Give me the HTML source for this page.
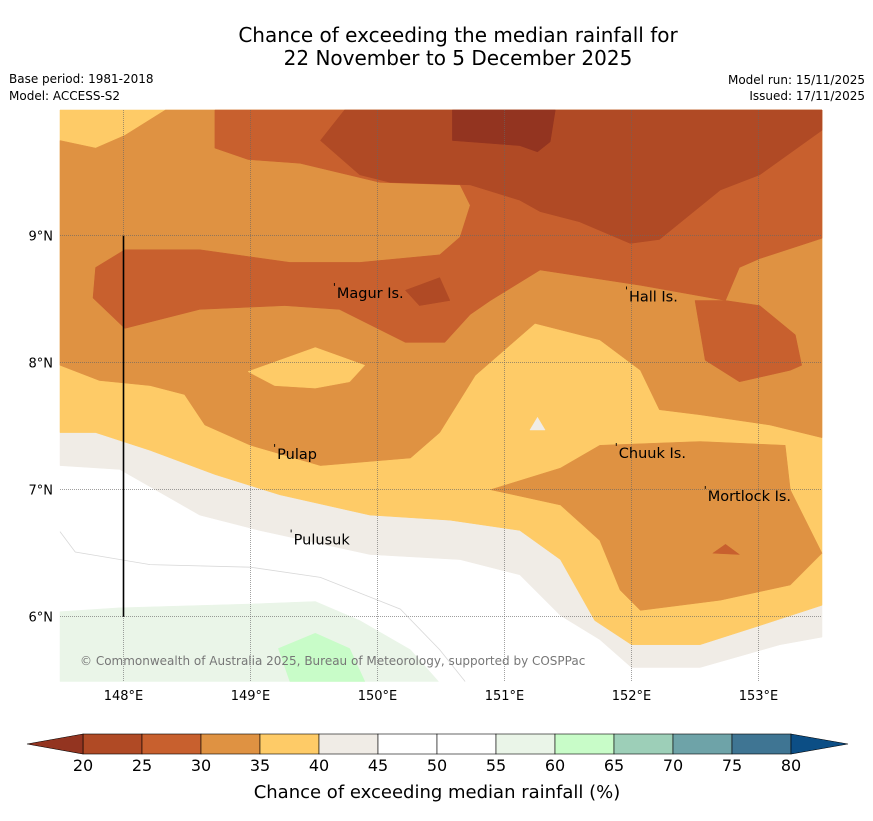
<!DOCTYPE html>
<html><head><meta charset="utf-8"><style>
body{margin:0;background:#fff;font-family:"Liberation Sans","DejaVu Sans",sans-serif;}
svg text{font-family:"DejaVu Sans","Liberation Sans",sans-serif;}
</style></head><body>
<svg id="c" width="873" height="816" xmlns="http://www.w3.org/2000/svg">
<text x="458" y="42" text-anchor="middle" font-size="20">Chance of exceeding the median rainfall for</text>
<text x="458" y="65" text-anchor="middle" font-size="20">22 November to 5 December 2025</text>
<text x="9" y="83" font-size="12">Base period: 1981-2018</text>
<text x="9" y="100" font-size="12">Model: ACCESS-S2</text>
<text x="865" y="84" font-size="12" text-anchor="end">Model run: 15/11/2025</text>
<text x="865" y="100" font-size="12" text-anchor="end">Issued: 17/11/2025</text>
<g id="map"></g>
<g id="cb"></g>
<text x="437" y="798" text-anchor="middle" font-size="18">Chance of exceeding median rainfall (%)</text>
</svg>
<script>
const NS="http://www.w3.org/2000/svg";
const lonTicks=[148,149,150,151,152,153];
const latTicks=[6,7,8,9];
const levels=[20,25,30,35,40,45,50,55,60,65,70,75,80];
const levelColors=["#b04a25","#c8602e","#df9242","#fecb67","#f0ece6","#ffffff","#ffffff","#eaf5e8","#c8fcc8","#9dcfb8","#6ea3a8","#3f7593"];
const grayBand=[[147.5,9.99],[153.5,9.99],[153.5,5.84],[153.17,5.78],[152.54,5.6],[152.0,5.6],[151.75,5.82],[151.44,6.01],[151.12,6.33],[150.65,6.45],[149.94,6.49],[149.07,6.68],[148.6,6.8],[148.25,7.0],[147.97,7.16],[147.5,7.19]];
const yellowBand=[[147.5,9.99],[153.5,9.99],[153.5,6.09],[153.01,5.93],[152.54,5.78],[152.0,5.78],[151.71,5.97],[151.44,6.45],[151.12,6.68],[150.57,6.76],[149.94,6.8],[149.23,6.96],[148.72,7.12],[148.21,7.31],[147.78,7.45],[147.5,7.45]];
const orangeBand=[[147.5,9.75],[147.78,9.69],[148.01,9.79],[148.33,9.99],[153.5,9.99],[153.5,7.41],[153.09,7.51],[152.54,7.59],[152.22,7.63],[152.07,7.94],[151.75,8.18],[151.24,8.31],[150.77,7.9],[150.49,7.45],[150.26,7.25],[149.55,7.19],[149.0,7.35],[148.64,7.51],[148.48,7.75],[148.21,7.82],[147.81,7.86],[147.5,7.98]];
const yellowPatch=[[148.98,7.93],[149.51,8.12],[149.9,7.98],[149.78,7.85],[149.51,7.8],[149.19,7.82]];
const mortlockOrange=[[150.89,7.0],[151.44,7.17],[151.75,7.35],[152.54,7.38],[153.21,7.35],[153.25,7.0],[153.5,6.5],[153.25,6.25],[152.7,6.13],[152.07,6.05],[151.91,6.21],[151.75,6.6],[151.44,6.88]];
const mortlockRed=[[152.64,6.5],[152.74,6.57],[152.85,6.49]];
const chuukGray=[[151.2,7.47],[151.26,7.57],[151.32,7.47]];
const redBand=[[148.72,9.99],[153.5,9.99],[153.5,8.98],[153.01,8.82],[152.85,8.75],[152.74,8.49],[152.07,8.61],[151.28,8.73],[150.89,8.49],[150.73,8.38],[150.53,8.16],[150.22,8.16],[149.7,8.42],[149.27,8.45],[148.6,8.42],[148.01,8.27],[147.76,8.51],[147.78,8.75],[148.01,8.89],[148.6,8.89],[149.31,8.79],[149.86,8.79],[150.49,8.85],[150.65,8.99],[150.73,9.24],[150.65,9.4],[150.02,9.42],[149.39,9.57],[148.98,9.6],[148.72,9.69]];
const hallRed=[[152.5,8.49],[152.58,8.02],[152.85,7.85],[153.25,7.94],[153.34,7.98],[153.29,8.22],[153.01,8.45],[152.74,8.49]];
const darkBand=[[149.74,9.99],[153.5,9.99],[153.5,9.83],[153.01,9.48],[152.7,9.36],[152.22,8.97],[151.99,8.94],[151.59,9.11],[151.28,9.19],[151.12,9.28],[150.73,9.4],[150.1,9.42],[149.86,9.48],[149.55,9.75]];
const magurDark=[[150.22,8.57],[150.49,8.67],[150.57,8.49],[150.33,8.45]];
const darkestPatch=[[150.59,9.99],[151.4,9.99],[151.36,9.74],[151.26,9.66],[151.12,9.71],[150.59,9.75]];
const lightGreen=[[147.5,6.04],[147.97,6.07],[149.0,6.1],[149.51,6.12],[149.86,5.97],[150.26,5.74],[150.48,5.49],[147.5,5.49]];
const brightGreen=[[149.22,5.75],[149.51,5.87],[149.78,5.75],[149.9,5.49],[149.31,5.49]];
const contour50=[[147.5,6.67],[147.62,6.51],[148.21,6.41],[149.0,6.39],[149.55,6.31],[150.18,6.06],[150.49,5.74],[150.69,5.49]];
const islandNames=["Magur Is.","Hall Is.","Pulap","Chuuk Is.","Mortlock Is.","Pulusuk"];
const islandLon=[149.68,151.98,149.21,151.9,152.6,149.34];
const islandLat=[8.55,8.52,7.28,7.29,6.95,6.61];

const X=lon=>60+(lon-147.5)*127;
const Y=lat=>110+(9.99-lat)*127;
const map=document.getElementById('map');
function poly(pts,fill,name){
  const p=document.createElementNS(NS,'polygon');
  p.setAttribute('points',pts.map(d=>X(d[0]).toFixed(1)+','+Y(d[1]).toFixed(1)).join(' '));
  p.setAttribute('fill',fill);p.setAttribute('stroke',fill);p.setAttribute('stroke-width','0.5');
  
  
  map.appendChild(p);
}
const bg=document.createElementNS(NS,'rect');
bg.setAttribute('x',60);bg.setAttribute('y',110);bg.setAttribute('width',762);bg.setAttribute('height',571);bg.setAttribute('fill','#fff');


map.appendChild(bg);
poly(grayBand,levelColors[4],'contour-40-45');
poly(lightGreen,levelColors[7],'contour-55-60');
poly(brightGreen,levelColors[8],'contour-60-65');
poly(yellowBand,levelColors[3],'contour-35-40');
poly(chuukGray,levelColors[4],'contour-40-45-chuuk');
poly(orangeBand,levelColors[2],'contour-30-35');
poly(yellowPatch,levelColors[3],'contour-35-40-patch');
poly(mortlockOrange,levelColors[2],'contour-30-35-mortlock');
poly(mortlockRed,levelColors[1],'contour-25-30-mortlock');
poly(redBand,levelColors[1],'contour-25-30');
poly(hallRed,levelColors[1],'contour-25-30-hall');
poly(darkBand,levelColors[0],'contour-20-25');
poly(magurDark,levelColors[0],'contour-20-25-magur');
poly(darkestPatch,'#933420','contour-below-20');
const cl=document.createElementNS(NS,'polyline');
cl.setAttribute('points',contour50.map(d=>X(d[0])+','+Y(d[1])).join(' '));
cl.setAttribute('fill','none');cl.setAttribute('stroke','#d8d8d8');cl.setAttribute('stroke-width','0.8');


map.appendChild(cl);
lonTicks.forEach(l=>{
  const g=document.createElementNS(NS,'line');
  g.setAttribute('x1',X(l));g.setAttribute('x2',X(l));g.setAttribute('y1',110);g.setAttribute('y2',681);
  g.setAttribute('stroke','#666');g.setAttribute('stroke-width','0.6');g.setAttribute('stroke-dasharray','1 1');
  
  
  map.appendChild(g);
  const t=document.createElementNS(NS,'text');
  t.setAttribute('x',X(l));t.setAttribute('y',700);t.setAttribute('text-anchor','middle');t.setAttribute('font-size','13');
  t.textContent=l+'°E';
  
  
  map.appendChild(t);
});
latTicks.forEach(l=>{
  const g=document.createElementNS(NS,'line');
  g.setAttribute('x1',60);g.setAttribute('x2',822);g.setAttribute('y1',Y(l));g.setAttribute('y2',Y(l));
  g.setAttribute('stroke','#666');g.setAttribute('stroke-width','0.6');g.setAttribute('stroke-dasharray','1 1');
  
  
  map.appendChild(g);
  const t=document.createElementNS(NS,'text');
  t.setAttribute('x',53);t.setAttribute('y',Y(l)+5);t.setAttribute('text-anchor','end');t.setAttribute('font-size','13');
  t.textContent=l+'°N';
  
  
  map.appendChild(t);
});
const vl=document.createElementNS(NS,'line');
vl.setAttribute('x1',X(148));vl.setAttribute('x2',X(148));vl.setAttribute('y1',Y(9));vl.setAttribute('y2',Y(6));
vl.setAttribute('stroke','#000');vl.setAttribute('stroke-width','1.6');


map.appendChild(vl);
islandNames.forEach((n,i)=>{
  const m=document.createElementNS(NS,'text');
  m.setAttribute('x',X(islandLon[i])-4);m.setAttribute('y',Y(islandLat[i])-2);m.setAttribute('font-size','11');
  m.textContent="'";
  
  
  map.appendChild(m);
  const t=document.createElementNS(NS,'text');
  t.setAttribute('x',X(islandLon[i]));t.setAttribute('y',Y(islandLat[i])+5);t.setAttribute('font-size','14.5');
  t.textContent=n;
  
  
  map.appendChild(t);
});
const cp=document.createElementNS(NS,'text');
cp.setAttribute('x',80);cp.setAttribute('y',665);cp.setAttribute('font-size','12');cp.setAttribute('fill','#777');
cp.textContent='© Commonwealth of Australia 2025, Bureau of Meteorology, supported by COSPPac';


map.appendChild(cp);
const cb=document.getElementById('cb');
const CX=v=>83+(v-20)*(708/60);
levelColors.forEach((c,i)=>{
  const r=document.createElementNS(NS,'rect');
  r.setAttribute('x',CX(levels[i]));r.setAttribute('y',734);r.setAttribute('width',CX(levels[i+1])-CX(levels[i]));r.setAttribute('height',20);
  r.setAttribute('fill',c);r.setAttribute('stroke','#000');r.setAttribute('stroke-width','0.6');
  
  
  cb.appendChild(r);
});
const la=document.createElementNS(NS,'polygon');
la.setAttribute('points',`${CX(20)},734 27,744 ${CX(20)},754`);la.setAttribute('fill','#933420');la.setAttribute('stroke','#000');la.setAttribute('stroke-width','0.6');


cb.appendChild(la);
const ra=document.createElementNS(NS,'polygon');
ra.setAttribute('points',`${CX(80)},734 848,744 ${CX(80)},754`);ra.setAttribute('fill','#0c4e85');ra.setAttribute('stroke','#000');ra.setAttribute('stroke-width','0.6');


cb.appendChild(ra);
levels.forEach(v=>{
  const t=document.createElementNS(NS,'text');
  t.setAttribute('x',CX(v));t.setAttribute('y',771);t.setAttribute('text-anchor','middle');t.setAttribute('font-size','16');
  t.textContent=v;
  
  
  cb.appendChild(t);
});
</script>
</body></html>
